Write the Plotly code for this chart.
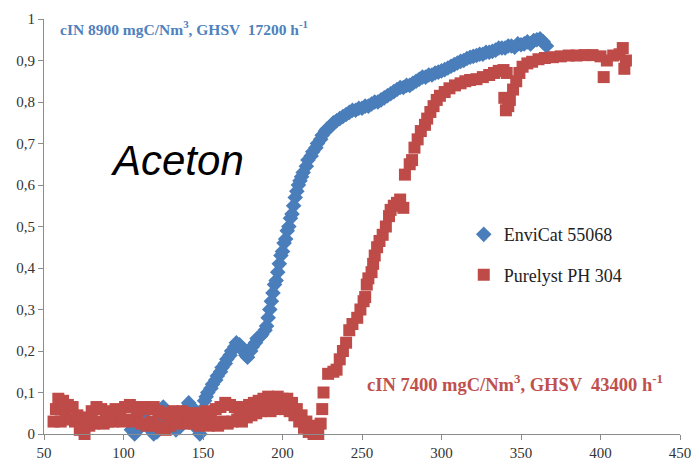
import plotly.graph_objects as go

# EnviCat 55068 – conversion vs. temperature
envicat_x = [105, 107, 109, 111, 113, 115, 117, 119, 121, 123, 125, 127, 129, 131, 133, 135,
             137, 139, 141, 143, 145, 147, 148, 149, 150, 151, 152, 153, 155, 156, 158, 159,
             161, 162, 164, 165, 167, 168, 170, 171, 173, 174, 176, 177, 178, 180, 181, 183,
             184, 186, 187, 189, 190, 191, 192, 193, 194, 195, 196, 197, 198, 199, 200, 201,
             202, 203, 204, 205, 206, 207, 208, 209, 210, 211, 212, 213, 215, 216, 218, 219,
             221, 222, 224, 225, 227, 228, 230, 232, 234, 236, 238, 240, 242, 244, 246, 248,
             250, 252, 254, 256, 258, 260, 262, 264, 266, 268, 270, 272, 274, 276, 278, 280,
             282, 284, 286, 288, 290, 292, 294, 296, 298, 300, 302, 304, 306, 308, 310, 312,
             314, 316, 318, 320, 322, 324, 326, 328, 330, 332, 334, 336, 338, 340, 342, 344,
             346, 348, 350, 352, 354, 356, 358, 360, 362, 364, 366]
envicat_y = [0.01, 0.0, 0.01, 0.03, 0.04, 0.02, 0.01, 0.0, 0.005, 0.04, 0.065, 0.05, 0.03, 0.02, 0.01, 0.015,
             0.03, 0.06, 0.075, 0.065, 0.03, 0.01, 0.0, 0.03, 0.06, 0.08, 0.09, 0.1, 0.11, 0.12, 0.13, 0.14,
             0.15, 0.16, 0.17, 0.18, 0.19, 0.2, 0.21, 0.22, 0.215, 0.205, 0.2, 0.19, 0.185, 0.2, 0.21, 0.22,
             0.23, 0.235, 0.24, 0.25, 0.26, 0.28, 0.3, 0.32, 0.34, 0.36, 0.37, 0.39, 0.41, 0.43, 0.44, 0.46,
             0.47, 0.49, 0.5, 0.52, 0.53, 0.55, 0.57, 0.585, 0.6, 0.61, 0.62, 0.63, 0.645, 0.66, 0.67, 0.68,
             0.69, 0.7, 0.71, 0.72, 0.73, 0.735, 0.74, 0.75, 0.755, 0.76, 0.765, 0.77, 0.775, 0.78, 0.78, 0.785,
             0.785, 0.79, 0.79, 0.795, 0.8, 0.8, 0.805, 0.81, 0.815, 0.82, 0.825, 0.83, 0.835, 0.835, 0.84, 0.84,
             0.845, 0.85, 0.855, 0.86, 0.86, 0.865, 0.865, 0.87, 0.872, 0.875, 0.878, 0.882, 0.886, 0.89, 0.894, 0.898,
             0.9, 0.905, 0.908, 0.91, 0.912, 0.915, 0.915, 0.92, 0.92, 0.922, 0.925, 0.93, 0.93, 0.93, 0.935, 0.935,
             0.932, 0.94, 0.938, 0.94, 0.945, 0.94, 0.948, 0.95, 0.952, 0.945, 0.935]

# Purelyst PH 304 – conversion vs. temperature
purelyst_x = [56, 57.5, 59, 60.5, 62, 63.5, 65, 66.5, 68, 69.5, 71, 72.5, 74, 75.5, 77, 78.5,
              80, 81.5, 83, 84.5, 86, 87.5, 89, 90.5, 92, 93.5, 95, 96.5, 98, 99.5, 101, 102.5,
              104, 105.5, 107, 108.5, 110, 111.5, 113, 114.5, 116, 117.5, 119, 120.5, 122, 123.5,
              125, 126.5, 128, 129.5, 131, 132.5, 134, 135.5, 137, 138.5, 140, 141.5, 143, 144.5,
              146, 147.5, 149, 150.5, 152, 153.5, 155, 156.5, 158, 159.5, 161, 162.5, 164, 165.5,
              167, 168.5, 170, 171.5, 173, 174.5, 176, 177.5, 179, 180.5, 182, 183.5, 185, 186.5,
              188, 189.5, 191, 192.5, 194, 195.5, 197, 198.5, 200, 201.5, 203, 204.5, 206, 207.5,
              209, 210.5, 212, 213.5, 215, 216.5, 218, 219.5, 221, 222.5, 224,
              225, 225.8, 228.7, 232, 234, 236, 238, 240, 242, 244, 247, 249, 251, 252, 253, 254,
              256, 257, 258, 259.5, 261, 263, 265, 267, 268, 270, 272, 274, 276, 277, 280, 281.5,
              283, 285, 287, 289.6, 291, 293, 295, 297, 299, 302, 305, 308.5, 312, 315, 318, 322,
              326, 330, 333, 336, 339, 341, 339.5, 340.5, 342, 343, 345, 347, 349, 351, 354, 357,
              361, 365, 370, 375, 380, 385, 390, 395, 400, 402, 404, 408, 412, 414, 415, 416]
purelyst_y = [0.03, 0.06, 0.085, 0.03, 0.08, 0.045, 0.07, 0.035, 0.065, 0.03, 0.045, 0.01, 0.04, 0.0, 0.035, 0.02,
              0.055, 0.025, 0.065, 0.03, 0.06, 0.025, 0.05, 0.03, 0.055, 0.03, 0.06, 0.035, 0.055, 0.03, 0.065, 0.035,
              0.07, 0.03, 0.065, 0.04, 0.06, 0.025, 0.065, 0.02, 0.06, 0.03, 0.065, 0.02, 0.055, 0.015,
              0.05, 0.01, 0.045, 0.02, 0.055, 0.025, 0.05, 0.03, 0.055, 0.025, 0.05, 0.03, 0.05, 0.025,
              0.045, 0.02, 0.05, 0.025, 0.055, 0.02, 0.05, 0.025, 0.06, 0.02, 0.065, 0.03, 0.075, 0.025,
              0.07, 0.03, 0.065, 0.035, 0.06, 0.03, 0.065, 0.04, 0.07, 0.045, 0.075, 0.05, 0.08, 0.055,
              0.085, 0.06, 0.09, 0.055, 0.085, 0.06, 0.09, 0.065, 0.085, 0.06, 0.085, 0.055, 0.075, 0.045,
              0.06, 0.03, 0.045, 0.015, 0.03, 0.005, 0.02, 0.0, 0.01, 0.0, 0.025,
              0.06, 0.1, 0.145, 0.15, 0.155, 0.18, 0.2, 0.22, 0.25, 0.265, 0.28, 0.3, 0.32, 0.33, 0.36, 0.375,
              0.39, 0.41, 0.43, 0.45, 0.465, 0.48, 0.5, 0.525, 0.54, 0.55, 0.557, 0.565, 0.545, 0.625, 0.65, 0.66,
              0.69, 0.71, 0.73, 0.745, 0.76, 0.776, 0.79, 0.805, 0.815, 0.824, 0.833, 0.84, 0.845, 0.85, 0.853, 0.855,
              0.86, 0.865, 0.87, 0.875, 0.877, 0.87, 0.81, 0.78, 0.79, 0.805, 0.83, 0.85, 0.87, 0.885, 0.893, 0.897,
              0.903, 0.906, 0.908, 0.91, 0.912, 0.912, 0.913, 0.913, 0.91, 0.86, 0.9, 0.912, 0.915, 0.93, 0.88, 0.9]

x_ticks = [50, 100, 150, 200, 250, 300, 350, 400, 450]
y_ticks = [0, 0.1, 0.2, 0.3, 0.4, 0.5, 0.6, 0.7, 0.8, 0.9, 1]
y_tick_text = ["0", "0,1", "0,2", "0,3", "0,4", "0,5", "0,6", "0,7", "0,8", "0,9", "1"]

BLUE = "#4a7ebb"
RED = "#be4b48"
SERIF = "Liberation Serif, Times New Roman, serif"

fig = go.Figure()
fig.add_trace(go.Scatter(
    x=envicat_x, y=envicat_y, mode="markers", name="EnviCat 55068",
    legendgroup="a", cliponaxis=False,
    marker=dict(symbol="diamond", size=12, color=BLUE, line=dict(width=0)),
))
fig.add_trace(go.Scatter(
    x=purelyst_x, y=purelyst_y, mode="markers", name="Purelyst PH 304",
    legendgroup="b", cliponaxis=False,
    marker=dict(symbol="square", size=12, color=RED, line=dict(width=0)),
))

axis_style = dict(
    showgrid=False, zeroline=False, showline=True, linecolor="#8c8c8c", linewidth=1,
    ticks="outside", ticklen=5, tickcolor="#8c8c8c", tickwidth=1, automargin=False,
    tickfont=dict(family=SERIF, size=15, color="#333333"),
)

fig.update_xaxes(range=[50, 450], tickvals=x_ticks, **axis_style)
fig.update_yaxes(range=[0, 1], tickvals=y_ticks, ticktext=y_tick_text, **axis_style)

fig.add_annotation(
    xref="paper", yref="paper", x=0.022, y=0.978, xanchor="left", yanchor="middle",
    text="<b>cIN 8900 mgC/Nm<sup>3</sup>, GHSV  17200 h<sup>-1</sup></b>",
    showarrow=False, font=dict(family=SERIF, size=15.5, color="#4f81bd"),
)
fig.add_annotation(
    xref="paper", yref="paper", x=0.505, y=0.123, xanchor="left", yanchor="middle",
    text="<b>cIN 7400 mgC/Nm<sup>3</sup>, GHSV  43400 h<sup>-1</sup></b>",
    showarrow=False, font=dict(family=SERIF, size=18.5, color="#c0504d"),
)
fig.add_annotation(
    xref="paper", yref="paper", x=0.1, y=0.66, xanchor="left", yanchor="middle",
    text="<i>Aceton</i>", showarrow=False,
    font=dict(family="Liberation Sans, Arial, sans-serif", size=42, color="#000000"),
)

fig.update_layout(
    width=693, height=461,
    margin=dict(l=44, r=13, t=19, b=27),
    paper_bgcolor="white", plot_bgcolor="white",
    showlegend=True,
    legend=dict(
        x=0.66, y=0.525, xanchor="left", yanchor="top",
        font=dict(family=SERIF, size=18, color="#222222"),
        tracegroupgap=14, bgcolor="rgba(0,0,0,0)", itemwidth=30,
    ),
)

fig.write_html("out.html")
